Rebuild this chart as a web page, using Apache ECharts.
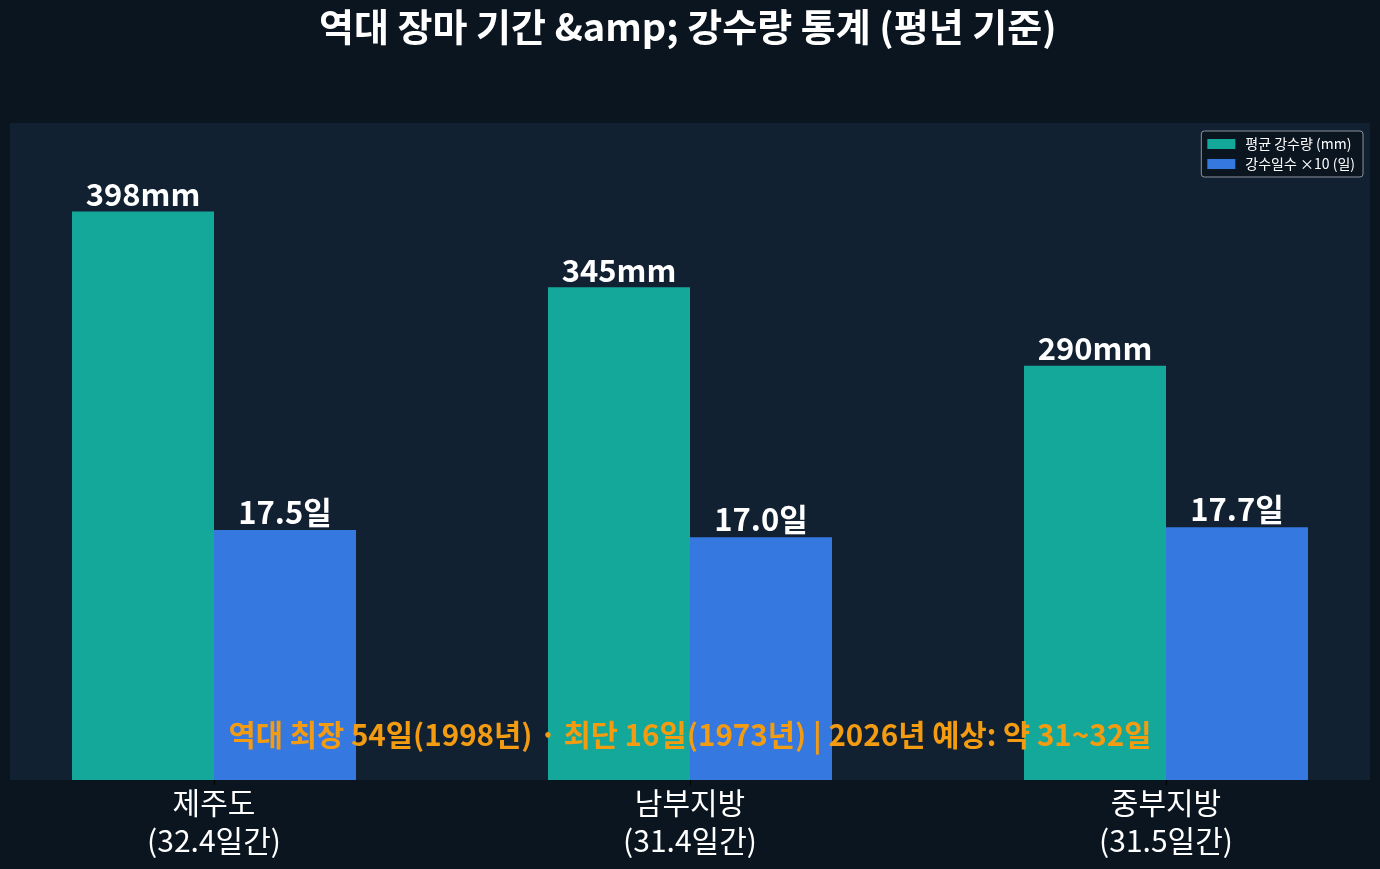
<!DOCTYPE html>
<html>
<head>
<meta charset="utf-8">
<script src="https://cdn.jsdelivr.net/npm/echarts@6/dist/echarts.min.js"></script>
<style>
  html, body { margin: 0; padding: 0; background: #0b1520; }
  #chart { width: 1380px; height: 869px; }
</style>
</head>
<body>
<div id="chart"></div>
<script>
// 지역별 장마 통계
const regions = ['제주도', '남부지방', '중부지방'];
const periodDays = ['32.4', '31.4', '31.5'];
const rainfallMm = [398, 345, 290];
const rainyDays = [17.5, 17.0, 17.7];

const FONT = '"Noto Sans CJK KR", "Noto Sans", sans-serif';

const chart = echarts.init(document.getElementById('chart'));

const categories = regions.map((r, i) => r + '\n(' + periodDays[i] + '일간)');

const option = {
  backgroundColor: '#0b1520',
  animation: false,
  textStyle: { fontFamily: FONT },
  title: {
    text: '역대 장마 기간 &amp; 강수량 통계 (평년 기준)',
    left: 314,
    top: 3,
    textStyle: { color: '#ffffff', fontSize: 38, fontWeight: 'bold', fontFamily: FONT },
  },
  graphic: [
    {
      type: 'rect',
      z: -10,
      shape: { x: 10, y: 123, width: 1360, height: 657 },
      style: { fill: '#122132' },
    },
    {
      type: 'text',
      z: 100,
      left: 'center',
      top: 720,
      style: {
        text: '역대 최장 54일(1998년) · 최단 16일(1973년) | 2026년 예상: 약 31~32일',
        fill: '#f39c12',
        font: 'bold 29.6px ' + FONT,
      },
    },
  ],
  legend: {
    right: 17,
    top: 131,
    orient: 'vertical',
    icon: 'rect',
    itemWidth: 28,
    itemHeight: 10,
    itemGap: 6,
    padding: [6, 8, 6, 6],
    backgroundColor: '#0b1520',
    borderColor: '#8a939c',
    borderWidth: 1,
    borderRadius: 3,
    textStyle: { color: '#ffffff', fontSize: 14, fontFamily: FONT, padding: [0, 0, 0, 5] },
    data: ['평균 강수량 (mm)', '강수일수 ×10 (일)'],
  },
  grid: { left: -24, right: -24, top: 123, bottom: 89, outerBoundsMode: 'none' },
  xAxis: {
    type: 'category',
    data: categories,
    axisLine: { show: false },
    axisTick: { show: true, length: 5, lineStyle: { color: '#000000' }, alignWithLabel: true },
    axisLabel: { color: '#ffffff', fontSize: 30, lineHeight: 38, margin: 4, fontFamily: FONT },
  },
  yAxis: {
    type: 'value',
    min: 0,
    max: 460,
    show: false,
    splitLine: { show: false },
  },
  series: [
    {
      name: '평균 강수량 (mm)',
      type: 'bar',
      data: rainfallMm,
      barWidth: 142,
      barGap: '0%',
      itemStyle: { color: '#14a89a' },
      label: {
        show: true,
        position: 'top',
        distance: 2,
        color: '#ffffff',
        fontSize: 31,
        fontWeight: 'bold',
        fontFamily: FONT,
        formatter: (p) => p.value + 'mm',
      },
    },
    {
      name: '강수일수 ×10 (일)',
      type: 'bar',
      data: rainyDays.map((d) => d * 10),
      barWidth: 142,
      barGap: '0%',
      itemStyle: { color: '#3578e0' },
      label: {
        show: true,
        position: 'top',
        distance: 2,
        color: '#ffffff',
        fontSize: 31,
        fontWeight: 'bold',
        fontFamily: FONT,
        formatter: (p) => rainyDays[p.dataIndex].toFixed(1) + '일',
      },
    },
  ],
};

chart.setOption(option);
</script>
</body>
</html>
